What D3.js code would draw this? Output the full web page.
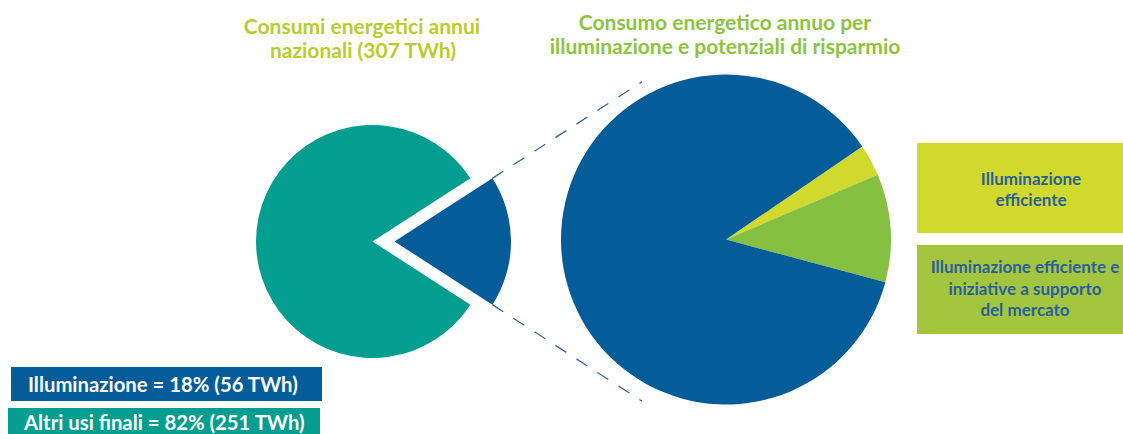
<!DOCTYPE html>
<html lang="it">
<head>
    <meta charset="UTF-8">
    <title>Consumi energetici per illuminazione</title>
    <script src="https://d3js.org/d3.v7.min.js"></script>
    <style>
        body { margin: 0; background-color: white; }
        svg { display: block; }
        .title { font-family: Lato, sans-serif; font-weight: 700; text-anchor: middle; }
        .box-text { font-family: Lato, sans-serif; font-weight: 700; text-anchor: middle; fill: #2a5f9c; }
        .legend-text { font-family: Lato, sans-serif; font-weight: 700; fill: white; }
    </style>
</head>
<body>
<script>
    // national consumption (TWh)
    const nationalLabels = ["Illuminazione", "Altri usi finali"];
    const nationalValues = [56, 251];
    const nationalColors = ["#045c98", "#039e8f"];

    // lighting consumption and savings potential (share, %)
    const lightingLabels = ["Illuminazione efficiente", "Illuminazione efficiente e iniziative a supporto del mercato", "Consumo residuo"];
    const lightingValues = [3.1, 10.6, 86.3];
    const lightingColors = ["#d1da2c", "#85c043", "#045c98"];

    const legendLines = ["Illuminazione = 18% (56 TWh)", "Altri usi finali = 82% (251 TWh)"];
    const boxLines = [["Illuminazione", "efficiente"], ["Illuminazione efficiente e", "iniziative a supporto", "del mercato"]];
    const boxColors = ["#d1da2c", "#a4c63e"];

    const width = 1123, height = 434;
    const deg = Math.PI / 180;

    const svg = d3.select("body").append("svg")
        .attr("width", width)
        .attr("height", height);

    // ---- left pie
    const lc = [372.5, 241.5], lr = 116.5, explode = 22;
    const blueSpan = nationalValues[0] / d3.sum(nationalValues) * 2 * Math.PI;
    const leftStart = Math.PI / 2 - blueSpan / 2;
    const leftPie = d3.pie().sort(null).startAngle(leftStart).endAngle(leftStart + 2 * Math.PI);
    const leftArc = d3.arc().innerRadius(0).outerRadius(lr);
    const leftArcs = leftPie(nationalValues);

    const gl = svg.append("g").attr("transform", `translate(${lc[0]},${lc[1]})`);

    // dashed guide lines extending the edges of the exploded slice
    const b = leftArcs[0];
    [b.startAngle, b.endAngle].forEach(a => {
        const dx = Math.sin(a), dy = -Math.cos(a);
        gl.append("line")
            .attr("x1", explode + dx * lr).attr("y1", dy * lr)
            .attr("x2", explode + dx * (lr + 178)).attr("y2", dy * (lr + 178))
            .attr("stroke", "#2f68a6")
            .attr("stroke-width", 1.3)
            .attr("stroke-dasharray", "13,12");
    });

    gl.selectAll("path")
        .data(leftArcs)
        .join("path")
        .attr("d", leftArc)
        .attr("fill", (d, i) => nationalColors[i])
        .attr("transform", (d, i) => i === 0 ? `translate(${explode},0)` : null);

    // ---- right pie
    const rc = [726, 239.5], rr = 165;
    const rightStart = 55.7 * deg;
    const rightPie = d3.pie().sort(null).startAngle(rightStart).endAngle(rightStart + 2 * Math.PI);
    const rightArc = d3.arc().innerRadius(0).outerRadius(rr);

    svg.append("g").attr("transform", `translate(${rc[0]},${rc[1]})`)
        .selectAll("path")
        .data(rightPie(lightingValues))
        .join("path")
        .attr("d", rightArc)
        .attr("fill", (d, i) => lightingColors[i]);

    // ---- titles
    const t1 = svg.append("text").attr("class", "title").attr("fill", "#b7cd2b").style("font-size", "21px");
    t1.append("tspan").attr("x", 362).attr("y", 34).text("Consumi energetici annui");
    t1.append("tspan").attr("x", 363).attr("y", 58).text("nazionali (307 TWh)");

    const t2 = svg.append("text").attr("class", "title").attr("fill", "#8cc43f").style("font-size", "21px");
    t2.append("tspan").attr("x", 725).attr("y", 30).text("Consumo energetico annuo per");
    t2.append("tspan").attr("x", 725).attr("y", 54).text("illuminazione e potenziali di risparmio");

    // ---- right boxes
    const boxY = [143, 245], boxH = [90, 89];
    const boxBase = [[185, 206], [273, 295, 316]];
    const boxCx = [1031, 1025];
    boxY.forEach((y, i) => {
        svg.append("rect").attr("x", 917).attr("y", y).attr("width", width - 917).attr("height", boxH[i]).attr("fill", boxColors[i]);
        const t = svg.append("text").attr("class", "box-text").style("font-size", "17px");
        boxLines[i].forEach((s, j) => t.append("tspan").attr("x", boxCx[i]).attr("y", boxBase[i][j]).text(s));
    });

    // ---- bottom legend
    const legRects = [[11, 367, 311, 34], [8, 408, 312, 30]];
    const legTx = [[28, 392], [24, 430]];
    legendLines.forEach((s, i) => {
        svg.append("rect")
            .attr("x", legRects[i][0]).attr("y", legRects[i][1])
            .attr("width", legRects[i][2]).attr("height", legRects[i][3])
            .attr("fill", nationalColors[i]);
        svg.append("text").attr("class", "legend-text")
            .attr("x", legTx[i][0]).attr("y", legTx[i][1])
            .style("font-size", "20.3px")
            .text(s);
    });
</script>
</body>
</html>
